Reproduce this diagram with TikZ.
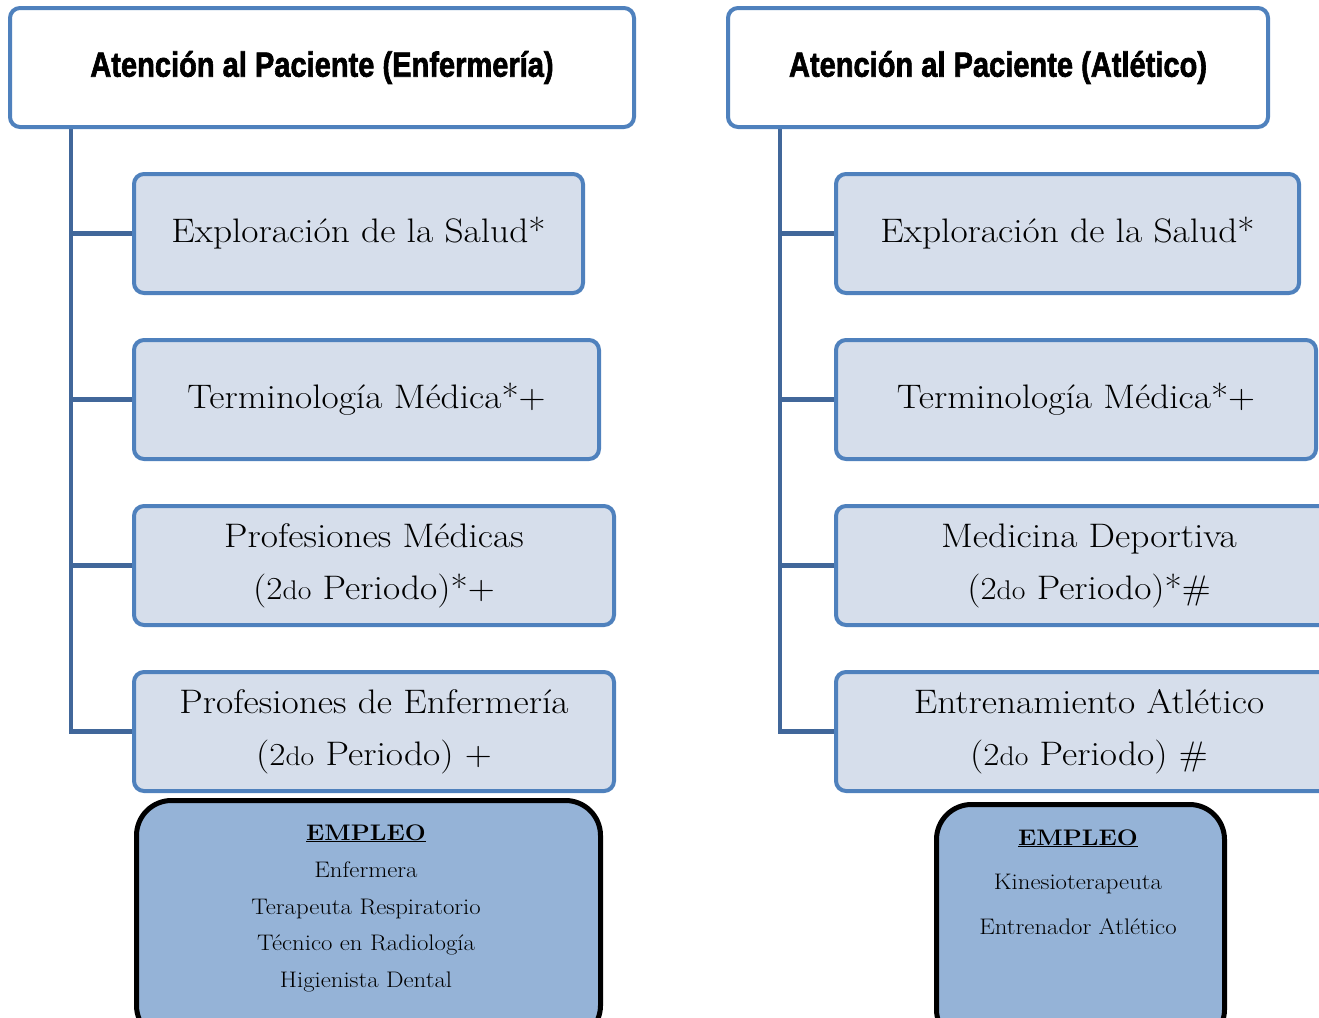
\documentclass[tikz,border=0pt]{standalone}
\usepackage{fontspec}
\setmainfont{Latin Modern Roman}[FakeStretch=1.1]
\newfontfamily\titlefont{Liberation Sans}[BoldFeatures={FakeBold=2}]
\definecolor{bordblue}{HTML}{4F81BD}
\definecolor{treeblue}{HTML}{41679A}
\definecolor{lightfill}{HTML}{D6DEEB}
\definecolor{empfill}{HTML}{95B3D7}
\newcommand{\osd}{{\fontsize{32}{52}\selectfont 2}{\fontsize{27}{52}\selectfont do}}
\newcommand{\ttl}[1]{\scalebox{0.83}[1]{\titlefont\bfseries\fontsize{35}{38}\selectfont #1}}
\begin{document}
\begin{tikzpicture}[x=1pt,y=-1pt,
 boxstyle/.style={draw=bordblue, line width=4pt, fill=lightfill, rounded corners=10pt, anchor=north west, align=center, font=\fontsize{34}{52}\selectfont, inner sep=0pt, minimum height=119pt},
 headstyle/.style={draw=bordblue, line width=4pt, fill=white, rounded corners=10pt, anchor=north west, inner sep=0pt, minimum height=119pt},
 treestyle/.style={draw=treeblue, line width=4.5pt},
 empstyle/.style={draw=black, line width=5pt, fill=empfill, rounded corners=35pt, anchor=north west, inner sep=0pt, minimum height=240pt},
 emptext/.style={anchor=base, inner sep=0pt, font=\fontsize{22.5}{37}\selectfont}
]
\useasboundingbox (0,0) rectangle (1319,1017);
\clip (0,0) rectangle (1319,1017);

\coordinate (tl) at (71,125);
\coordinate (tr) at (780,125);

\node[boxstyle, minimum width=449pt] (b1) at (132,172) {Exploración de la Salud*};
\node[boxstyle, minimum width=465pt] (b2) at (132,338) {Terminología Médica*+};
\node[boxstyle, minimum width=480pt] (b3) at (132,504) {Profesiones Médicas\\(\osd{} Periodo)*+};
\node[boxstyle, minimum width=480pt] (b4) at (132,670) {Profesiones de Enfermería\\(\osd{} Periodo) +};

\node[boxstyle, minimum width=463pt] (c1) at (834,172) {Exploración de la Salud*};
\node[boxstyle, minimum width=480pt] (c2) at (834,338) {Terminología Médica*+};
\node[boxstyle, minimum width=506pt] (c3) at (834,504) {Medicina Deportiva\\(\osd{} Periodo)*\#};
\node[boxstyle, minimum width=506pt] (c4) at (834,670) {Entrenamiento Atlético\\(\osd{} Periodo) \#};

\draw[treestyle] (tl) |- (b4.west);
\draw[treestyle] (tl |- b1.west) -- (b1.west);
\draw[treestyle] (tl |- b2.west) -- (b2.west);
\draw[treestyle] (tl |- b3.west) -- (b3.west);
\draw[treestyle] (tr) |- (c4.west);
\draw[treestyle] (tr |- c1.west) -- (c1.west);
\draw[treestyle] (tr |- c2.west) -- (c2.west);
\draw[treestyle] (tr |- c3.west) -- (c3.west);

\node[headstyle, minimum width=624pt] (h1) at (8,6) {\ttl{Atención al Paciente (Enfermería)}};
\node[headstyle, minimum width=540pt] (h2) at (726,6) {\ttl{Atención al Paciente (Atlético)}};

\node[empstyle, minimum width=464pt] (e1) at (134,798) {};
\node[empstyle, minimum width=288pt] (e2) at (934,802) {};

\node[emptext] (e1a) at (366,840) {\underline{\textbf{EMPLEO}}};
\node[emptext] (e1b) at (366,877) {Enfermera};
\node[emptext] (e1c) at (366,914) {Terapeuta Respiratorio};
\node[emptext] (e1d) at (366,950) {Técnico en Radiología};
\node[emptext] (e1e) at (366,987) {Higienista Dental};

\node[emptext] (e2a) at (1078,845) {\underline{\textbf{EMPLEO}}};
\node[emptext] (e2b) at (1078,889) {Kinesioterapeuta};
\node[emptext] (e2c) at (1078,934) {Entrenador Atlético};
\end{tikzpicture}
\end{document}
